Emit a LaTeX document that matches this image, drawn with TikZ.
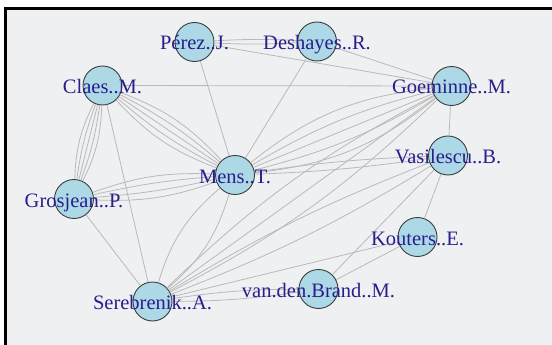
\documentclass[tikz,border=0pt]{standalone}
\usepackage{fontspec}
\setmainfont{Liberation Serif}
\usetikzlibrary{positioning}
\definecolor{panelgray}{RGB}{239,240,242}
\definecolor{vfill}{RGB}{173,216,230}
\definecolor{vline}{RGB}{60,60,60}
\definecolor{lblue}{RGB}{40,30,140}
\definecolor{lgray}{RGB}{185,185,185}
\tikzset{
  vertex/.style={circle, draw=vline, fill=vfill, line width=0.9pt, minimum size=39pt, inner sep=0pt},
  lbl/.style={text=lblue, font=\fontsize{20.5}{24}\selectfont, inner sep=0pt, text height=16pt, text depth=0pt},
  link/.style={draw=lgray, line width=0.8pt},
}

\begin{document}
\begin{tikzpicture}[x=1pt, y=-1pt]
  \useasboundingbox (0,0) rectangle (552,345);
  \fill[white] (0,0) rectangle (552,345);
  \fill[panelgray] (5,8) rectangle (552,345);
  \draw[black, line width=2.5pt] (5.3,345) -- (5.3,8.3) -- (552,8.3);

  % vertices
  \node[vertex] (perez) at (194.5,42) {};
  \node[vertex] (deshayes) at (317,41.5) {};
  \node[vertex] (claes) at (102.5,85.5) {};
  \node[vertex] (goeminne) at (451.5,86) {};
  \node[vertex] (mens) at (235,175) {};
  \node[vertex] (vasilescu) at (448,155.5) {};
  \node[vertex] (grosjean) at (74,199) {};
  \node[vertex] (kouters) at (417.5,237) {};
  \node[vertex] (serebrenik) at (152.5,301.5) {};
  \node[vertex] (brand) at (318.5,289) {};

  % edges
  \foreach \b in {-3,3} \draw[link] (perez) to[bend left=\b] (deshayes);
  \draw[link] (perez) -- (goeminne);
  \draw[link] (perez) -- (mens);
  \draw[link] (deshayes) -- (mens);
  \draw[link] (deshayes) -- (goeminne);
  \draw[link] (claes) -- (goeminne);
  \draw[link] (claes) -- (serebrenik);
  \foreach \b in {-13,-6.5,0,6.5,13} \draw[link] (claes) to[bend left=\b] (mens);
  \foreach \b in {-12,-6,0,6,12} \draw[link] (claes) to[bend left=\b] (grosjean);
  \foreach \b in {-11,-4,4,11} \draw[link] (grosjean) to[bend left=\b] (mens);
  \draw[link] (grosjean) -- (serebrenik);
  \foreach \b in {-16,-8,0,8,16} \draw[link] (mens) to[bend left=\b] (goeminne);
  \foreach \b in {-3,3} \draw[link] (mens) to[bend left=\b] (vasilescu);
  \foreach \b in {-16,16} \draw[link] (mens) to[bend left=\b] (serebrenik);
  \foreach \b in {-8,0,8} \draw[link] (serebrenik) to[bend left=\b] (goeminne);
  \foreach \b in {-5,5} \draw[link] (serebrenik) to[bend left=\b] (vasilescu);
  \draw[link] (serebrenik) -- (kouters);
  \foreach \b in {-4,4} \draw[link] (serebrenik) to[bend left=\b] (brand);
  \draw[link] (goeminne) -- (vasilescu);
  \draw[link] (vasilescu) -- (kouters);
  \draw[link] (vasilescu) -- (brand);
  \draw[link] (kouters) -- (brand);

  % labels
  \node[lbl] (perez-l) at (perez) {Pérez..J.};
  \node[lbl] (deshayes-l) at (deshayes) {Deshayes..R.};
  \node[lbl] (claes-l) at (claes) {Claes..M.};
  \node[lbl] (goeminne-l) at (goeminne) {Goeminne..M.};
  \node[lbl] (mens-l) at (mens) {Mens..T.};
  \node[lbl] (vasilescu-l) at (vasilescu) {Vasilescu..B.};
  \node[lbl] (grosjean-l) at (grosjean) {Grosjean..P.};
  \node[lbl] (kouters-l) at (kouters) {Kouters..E.};
  \node[lbl] (serebrenik-l) at (serebrenik) {Serebrenik..A.};
  \node[lbl] (brand-l) at (brand) {van.den.Brand..M.};
\end{tikzpicture}
\end{document}
